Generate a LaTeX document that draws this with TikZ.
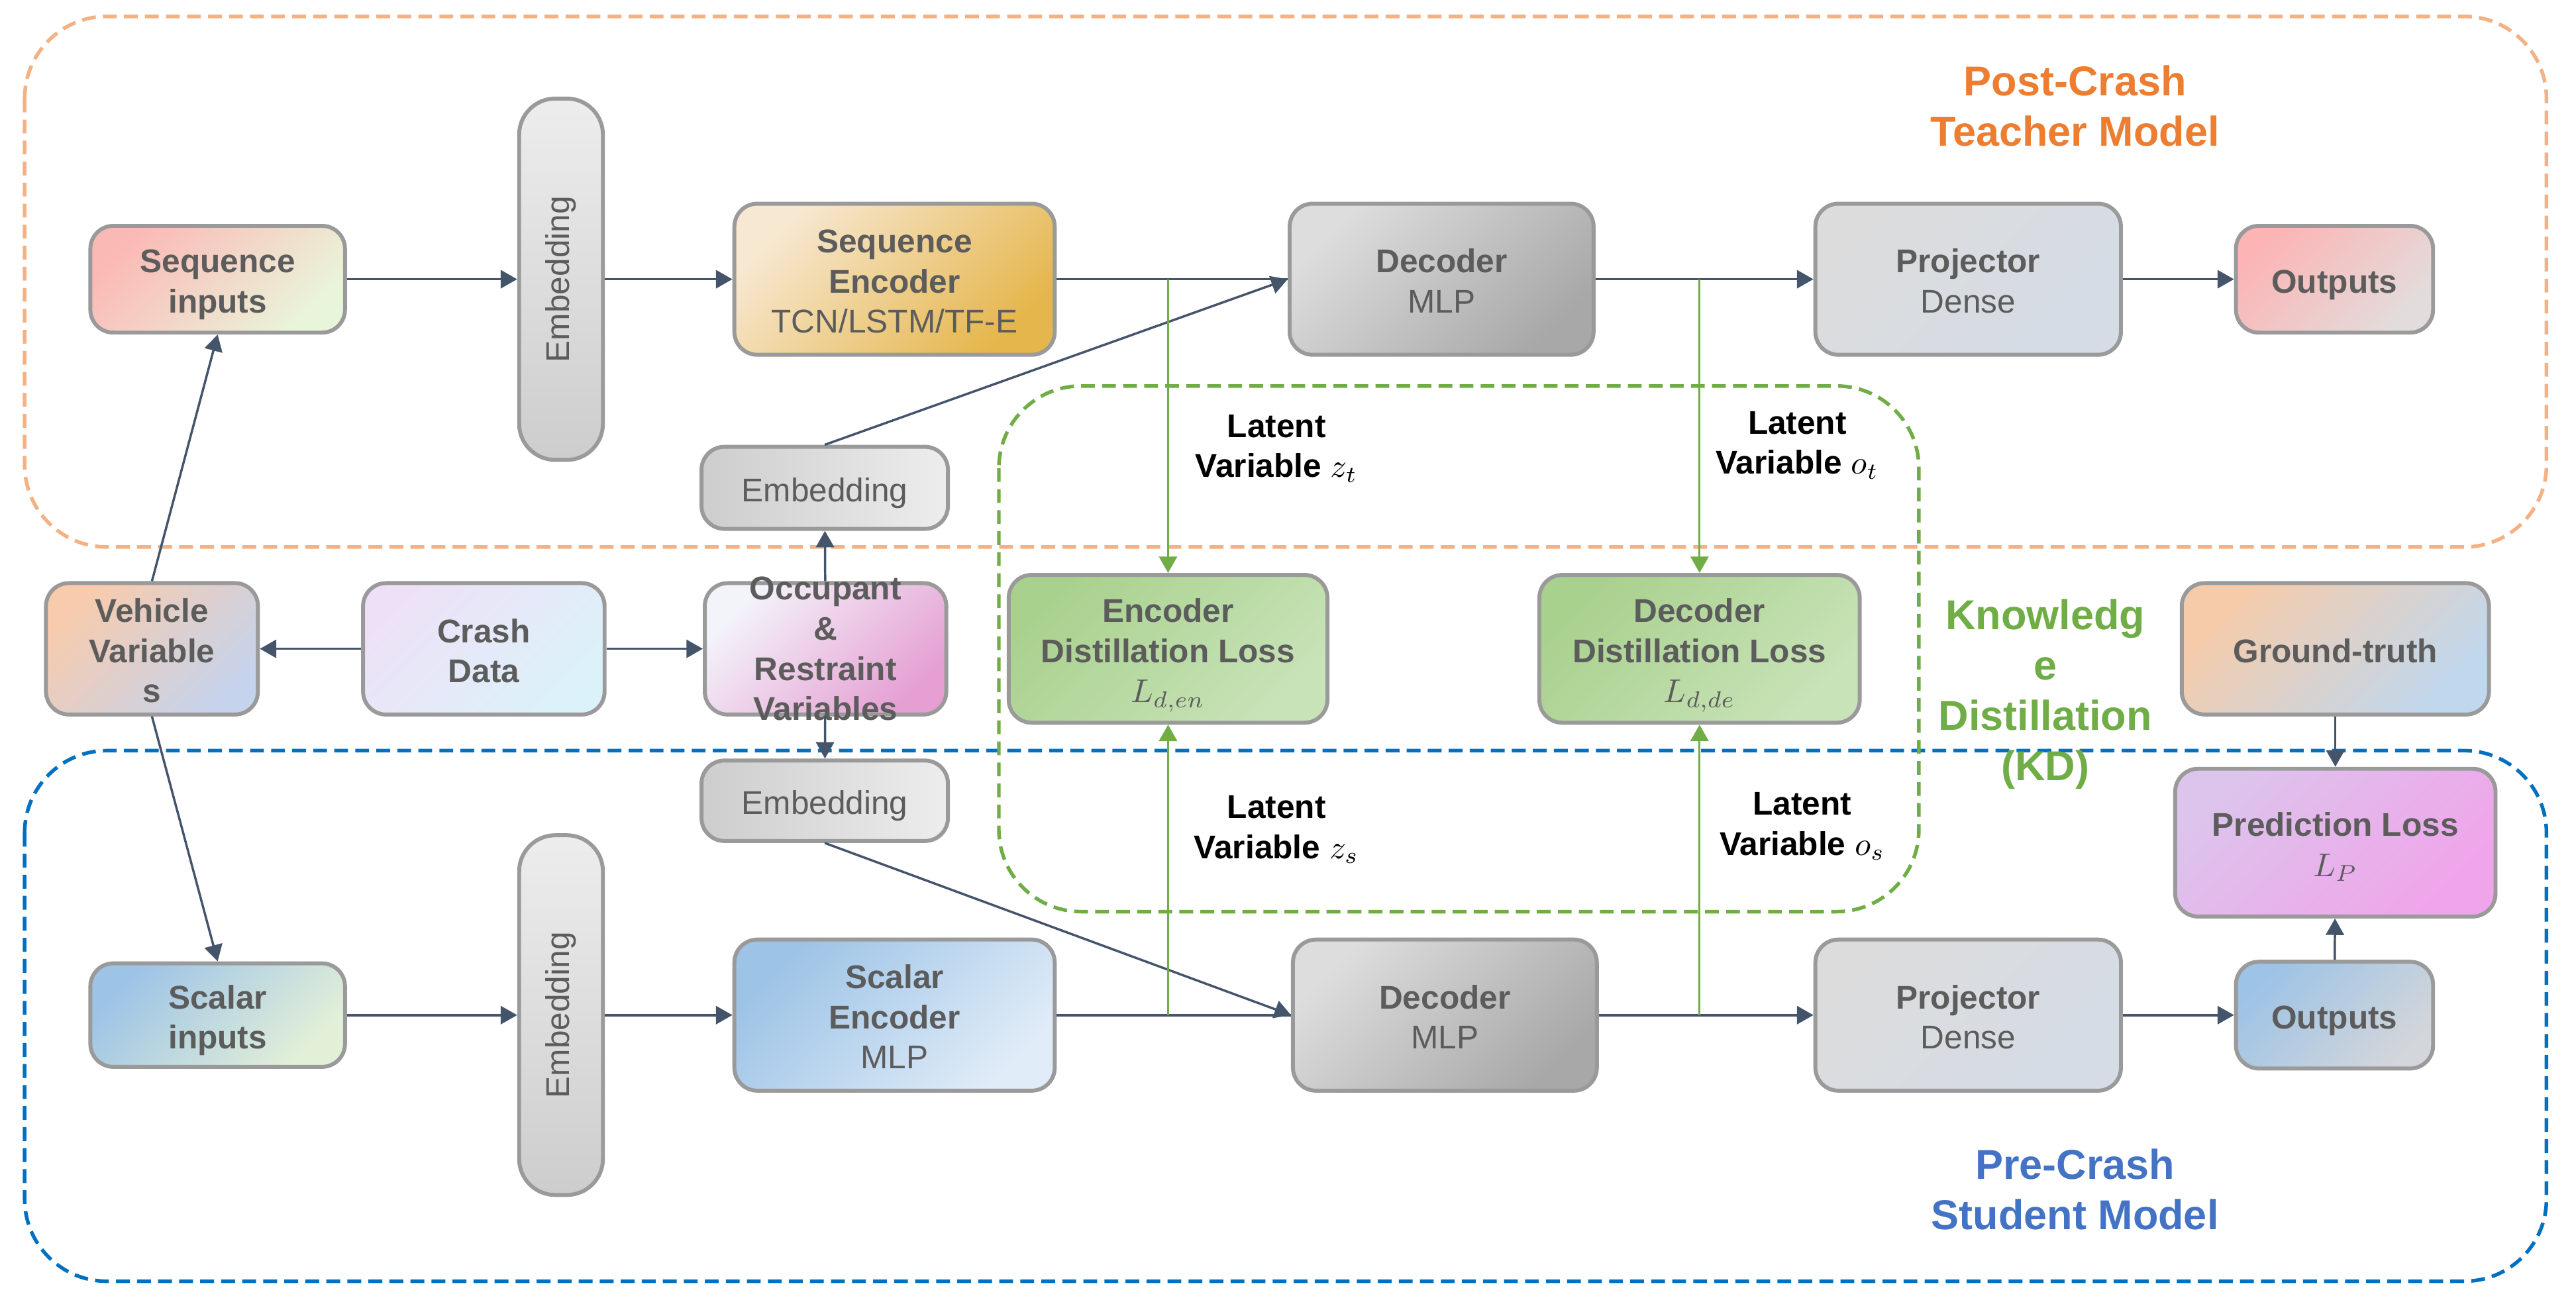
\documentclass[tikz,border=0pt]{standalone}
\usepackage{fontspec}
\setmainfont{Liberation Sans}
\usepackage{tikz}
\usetikzlibrary{arrows.meta,calc}
\definecolor{kdorange}{HTML}{F4B183}
\definecolor{kdblue}{HTML}{0070C0}
\definecolor{kdgreen}{HTML}{70AD47}
\definecolor{kdarrow}{HTML}{44546A}
\definecolor{kdframe}{HTML}{9A9A9A}
\definecolor{kdtext}{HTML}{5C5C5C}
\definecolor{kdteach}{HTML}{ED7D31}
\definecolor{kdstud}{HTML}{4472C4}
% box gradients (top-left, bottom-right)
\definecolor{seqa}{HTML}{FBB9B6}\definecolor{seqb}{HTML}{E9F5DA}
\definecolor{emba}{HTML}{EDEDED}\definecolor{embb}{HTML}{CDCDCD}
\definecolor{senca}{HTML}{F7E8D2}\definecolor{sencb}{HTML}{E5B64C}
\definecolor{deca}{HTML}{DDDDDD}\definecolor{decb}{HTML}{A8A8A8}
\definecolor{proja}{HTML}{DCDCDC}\definecolor{projb}{HTML}{D5DCE6}
\definecolor{outta}{HTML}{FCB4B4}\definecolor{outtb}{HTML}{E3DCDC}
\definecolor{veha}{HTML}{F8CBAD}\definecolor{vehb}{HTML}{C5D3EC}
\definecolor{crsha}{HTML}{EEE1F7}\definecolor{crshb}{HTML}{DBF2FA}
\definecolor{occa}{HTML}{F3F4FA}\definecolor{occb}{HTML}{E59FD3}
\definecolor{lossa}{HTML}{A9D18E}\definecolor{lossb}{HTML}{C8E3B8}
\definecolor{gta}{HTML}{F6CBA9}\definecolor{gtb}{HTML}{C0D8EE}
\definecolor{scina}{HTML}{9DC3E6}\definecolor{scinb}{HTML}{E3F0D8}
\definecolor{sbenca}{HTML}{9DC3E6}\definecolor{sbencb}{HTML}{E0ECF8}
\definecolor{preda}{HTML}{DCC4EC}\definecolor{predb}{HTML}{F0A4EA}
\definecolor{outba}{HTML}{9DC3E6}\definecolor{outbb}{HTML}{D3D6DA}

\tikzset{
  blk/.style={draw=kdframe, line width=1.2pt, rounded corners=7pt, align=center,
    text=kdtext, inner sep=0pt, font=\bfseries\fontsize{10}{12.2}\selectfont},
  one/.style={text height=10.5pt, text depth=2.2pt},
  two/.style={text height=22.7pt, text depth=2.2pt},
  three/.style={text height=34.9pt, text depth=2.2pt},
  grad/.style 2 args={top color=#1, bottom color=#2, shading angle=45},
  flow/.style={draw=kdarrow, line width=0.7pt, -{Triangle[length=5pt,width=5.5pt]}},
  link/.style={draw=kdarrow, line width=0.7pt},
  kdflow/.style={draw=kdgreen, line width=0.65pt, -{Triangle[length=5pt,width=5.5pt]}},
  region/.style={dash pattern=on 4.2pt off 2.2pt, line width=1.1pt, rounded corners=25pt},
  latent/.style={align=center, font=\bfseries\fontsize{10}{12.2}\selectfont},
  heading/.style={align=center, font=\bfseries\fontsize{12.7}{15.3}\selectfont},
}

\begin{document}
\begin{tikzpicture}[x=0.5pt, y=-0.5pt]
  \useasboundingbox (0,0) rectangle (1568,795);
  % model frames
  \draw[region, kdorange] (15,10) rectangle (1550,333);
  \draw[region, kdblue] (15,457) rectangle (1550,780);
  \draw[region, kdgreen] (608,235) rectangle (1168,555);

  % teacher
  \node[blk, two, grad={seqa}{seqb}, minimum width=77.5pt, minimum height=32.5pt] (seqin) at (132.5,170) {Sequence\\inputs};
  \node[blk, top color=emba, bottom color=embb, rounded corners=11pt, minimum width=25.5pt, minimum height=110pt] (embt) at (341.5,170) {\rotatebox{90}{\mdseries Embedding}};
  \node[blk, three, grad={senca}{sencb}, minimum width=97.5pt, minimum height=46pt] (senc) at (544.5,170) {Sequence\\Encoder\\\mdseries TCN/LSTM/TF-E};
  \node[blk, two, grad={deca}{decb}, minimum width=92.5pt, minimum height=46pt] (dect) at (877.5,170) {Decoder\\\mdseries MLP};
  \node[blk, two, grad={proja}{projb}, minimum width=93pt, minimum height=46pt] (projt) at (1198,170) {Projector\\\mdseries Dense};
  \node[blk, one, grad={outta}{outtb}, minimum width=60pt, minimum height=32.5pt] (outt) at (1421,170) {Outputs};
  \node[blk, one, left color=embb, right color=emba, minimum width=75pt, minimum height=25pt] (embm1) at (502,297) {\mdseries Embedding};

  % inputs
  \node[blk, three, grad={veha}{vehb}, minimum width=64.5pt, minimum height=40pt] (veh) at (92.5,395) {Vehicle\\Variable\\s};
  \node[blk, two, grad={crsha}{crshb}, minimum width=73.5pt, minimum height=40pt] (crash) at (294.5,395) {Crash\\Data};
  \node[blk, grad={occa}{occb}, minimum width=73.5pt, minimum height=40pt,
    label={[align=center, text=kdtext, font=\bfseries\fontsize{10}{12.2}\selectfont]center:{Occupant\\\&\\Restraint\\Variables}}] (occ) at (502.5,395) {};
  \node[blk, three, grad={lossa}{lossb}, minimum width=97pt, minimum height=45pt] (encl) at (711,395) {Encoder\\Distillation Loss\\$L_{d,en}$};
  \node[blk, three, grad={lossa}{lossb}, minimum width=97.5pt, minimum height=45pt] (decl) at (1034.5,395) {Decoder\\Distillation Loss\\$L_{d,de}$};
  \node[blk, one, grad={gta}{gtb}, minimum width=93.5pt, minimum height=40pt] (gt) at (1421.5,395) {Ground-truth};
  \node[blk, one, left color=embb, right color=emba, minimum width=75pt, minimum height=24.5pt] (embm2) at (502,487.5) {\mdseries Embedding};

  % student
  \node[blk, two, grad={scina}{scinb}, minimum width=77.5pt, minimum height=31.5pt] (scin) at (132.5,618) {Scalar\\inputs};
  \node[blk, top color=emba, bottom color=embb, rounded corners=11pt, minimum width=25.5pt, minimum height=109.5pt] (embb) at (341.5,618) {\rotatebox{90}{\mdseries Embedding}};
  \node[blk, three, grad={sbenca}{sbencb}, minimum width=97.5pt, minimum height=46pt] (scenc) at (544.5,618) {Scalar\\Encoder\\\mdseries MLP};
  \node[blk, two, grad={deca}{decb}, minimum width=92.5pt, minimum height=46pt] (decb) at (879.5,618) {Decoder\\\mdseries MLP};
  \node[blk, two, grad={proja}{projb}, minimum width=93pt, minimum height=46pt] (projb) at (1198,618) {Projector\\\mdseries Dense};
  \node[blk, one, grad={outba}{outbb}, minimum width=60pt, minimum height=32.5pt] (outb) at (1421,618) {Outputs};
  \node[blk, two, grad={preda}{predb}, minimum width=97.5pt, minimum height=45pt] (predl) at (1421.5,513) {Prediction Loss\\$L_P$};

  % labels
  \node[heading, text=kdteach] (teacher) at (1263,64.5) {Post-Crash\\Teacher Model};
  \node[heading, text=kdstud] (student) at (1263,724) {Pre-Crash\\Student Model};
  \node[heading, text=kdgreen] (kd) at (1245,422.5) {Knowledg\\e\\Distillation\\(KD)};
  \node[latent] (lzt) at (777,273) {Latent\\Variable $z_t$};
  \node[latent] (lot) at (1094,271) {Latent\\Variable $o_t$};
  \node[latent] (lzs) at (777,505) {Latent\\Variable $z_s$};
  \node[latent] (los) at (1097,503) {Latent\\Variable $o_s$};

  \coordinate (zt) at (711,170);
  \coordinate (ot) at (1034.5,170);
  \coordinate (zs) at (711,618);
  \coordinate (os) at (1034.5,618);

  % connectors
  \draw[flow] (seqin) -- (embt);
  \draw[flow] (embt) -- (senc);
  \draw[link] (senc) -- (dect);
  \draw[flow] (embm1.north) -- (dect.west);
  \draw[flow] (dect) -- (projt);
  \draw[flow] (projt) -- (outt);
  \draw[flow] (crash) -- (veh);
  \draw[flow] (crash) -- (occ);
  \draw[flow] (occ) -- (embm1);
  \draw[flow] (occ) -- (embm2);
  \draw[flow] (veh.north) -- (seqin.south);
  \draw[flow] (veh.south) -- (scin.north);
  \draw[flow] (embm2.south) -- (decb.west);
  \draw[flow] (scin) -- (embb);
  \draw[flow] (embb) -- (scenc);
  \draw[link] (scenc) -- (decb);
  \draw[flow] (decb) -- (projb);
  \draw[flow] (projb) -- (outb);
  \draw[flow] (gt) -- (predl);
  \draw[flow] (outb) -- (predl);
  \draw[kdflow] (zt) -- (encl);
  \draw[kdflow] (ot) -- (decl);
  \draw[kdflow] (zs) -- (encl);
  \draw[kdflow] (os) -- (decl);
\end{tikzpicture}
\end{document}
